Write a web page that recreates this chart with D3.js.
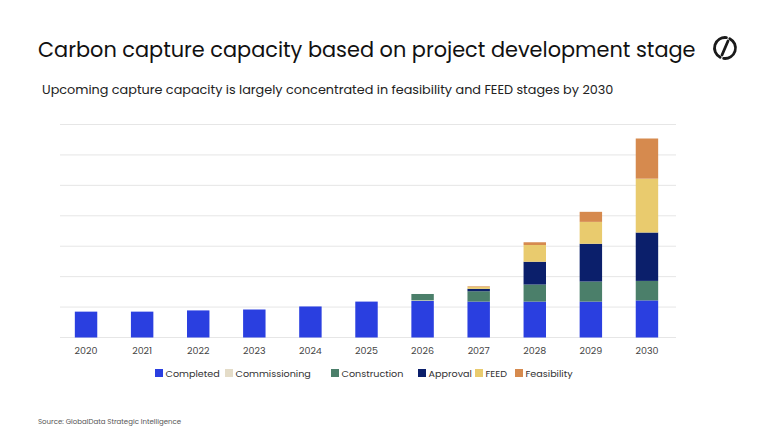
<!DOCTYPE html>
<html><head><meta charset="utf-8">
<script src="https://cdn.jsdelivr.net/npm/d3@7"></script>
<style>body{margin:0;background:#fff}svg{font-family:Poppins,"Noto Sans",sans-serif}</style>
</head><body>
<script>
const years = ['2020','2021','2022','2023','2024','2025','2026','2027','2028','2029','2030'];
const stages = ['Completed','Commissioning','Construction','Approval','FEED','Feasibility'];
const colors = ['#2a3fe0','#e4dcc8','#4b7f6a','#0b1f6b','#e9cb6e','#d68a4e'];
const completed     = [8.5, 8.5, 8.9, 9.2, 10.2, 11.8, 12.0, 11.8, 11.8, 11.8, 12.2];
const commissioning = [0, 0, 0, 0, 0, 0, 0.2, 0, 0, 0, 0];
const construction  = [0, 0, 0, 0, 0, 0, 2.1, 3.4, 5.6, 6.6, 6.4];
const approval      = [0, 0, 0, 0, 0, 0, 0, 0.8, 7.5, 12.4, 15.9];
const feed          = [0, 0, 0, 0, 0, 0, 0, 0.6, 5.5, 7.2, 17.7];
const feasibility   = [0, 0, 0, 0, 0, 0, 0, 0.2, 0.9, 3.3, 13.2];
const series = [completed, commissioning, construction, approval, feed, feasibility];

const W = 768, H = 432;
const svg = d3.select('body').append('svg').attr('width', W).attr('height', H);

svg.append('text').attr('x', 38).attr('y', 57).attr('font-size', 20.85).attr('fill', '#111')
  .text('Carbon capture capacity based on project development stage');
svg.append('text').attr('x', 42).attr('y', 94).attr('font-size', 12.8).attr('fill', '#222')
  .text('Upcoming capture capacity is largely concentrated in feasibility and FEED stages by 2030');
svg.append('text').attr('x', 38).attr('y', 424).attr('font-size', 7).attr('fill', '#555')
  .text('Source: GlobalData Strategic Intelligence');

// logo
const logo = svg.append('g').attr('transform', 'translate(725,48)')
  .attr('fill', 'none').attr('stroke', '#1a1a1a').attr('stroke-width', 2.8).attr('stroke-linecap', 'round');
const r = 10.5, pt = a => [r * Math.cos(a), r * Math.sin(a)];
const arcPath = (a0, a1) => { const p0 = pt(a0), p1 = pt(a1); return `M${p0}A${r},${r} 0 0 1 ${p1}`; };
logo.append('path').attr('d', arcPath(-1.1, 1.7));
logo.append('path').attr('d', arcPath(2.05, 4.85));
logo.append('line').attr('x1', 3).attr('y1', -7).attr('x2', -3).attr('y2', 7);

const x = d3.scaleBand().domain(years).range([58, 675]).paddingInner(0.6).paddingOuter(0.3);
const y = d3.scaleLinear().domain([0, 70]).range([337.5, 124.5]);

svg.append('g').selectAll('line').data(y.ticks(7)).join('line')
  .attr('x1', 60).attr('x2', 676).attr('y1', d => y(d)).attr('y2', d => y(d))
  .attr('stroke', '#e6e6e6').attr('stroke-width', 1);

const table = years.map((yr, i) => { const o = {year: yr}; stages.forEach((s, j) => o[s] = series[j][i]); return o; });
const stacked = d3.stack().keys(stages)(table);
svg.append('g').selectAll('g').data(stacked).join('g').attr('fill', (d, i) => colors[i])
  .selectAll('rect').data(d => d).join('rect')
  .attr('x', d => x(d.data.year)).attr('width', x.bandwidth())
  .attr('y', d => y(d[1])).attr('height', d => y(d[0]) - y(d[1]));

const xa = svg.append('g').attr('transform', 'translate(0,337.5)')
  .call(d3.axisBottom(x).tickSize(0).tickPadding(10));
xa.select('.domain').remove();
xa.selectAll('text').attr('font-size', 9.5).attr('fill', '#444').attr('font-family', 'Poppins,"Noto Sans",sans-serif');

const legX = [155, 225, 331, 418, 475, 515];
const leg = svg.append('g').selectAll('g').data(stages).join('g')
  .attr('transform', (d, i) => `translate(${legX[i]},373)`);
leg.append('rect').attr('x', 0).attr('y', -4).attr('width', 8).attr('height', 8).attr('fill', (d, i) => colors[i]);
leg.append('text').attr('x', 10.5).attr('y', 4).attr('font-size', 9.6).attr('fill', '#333').text(d => d);
</script>
</body></html>
